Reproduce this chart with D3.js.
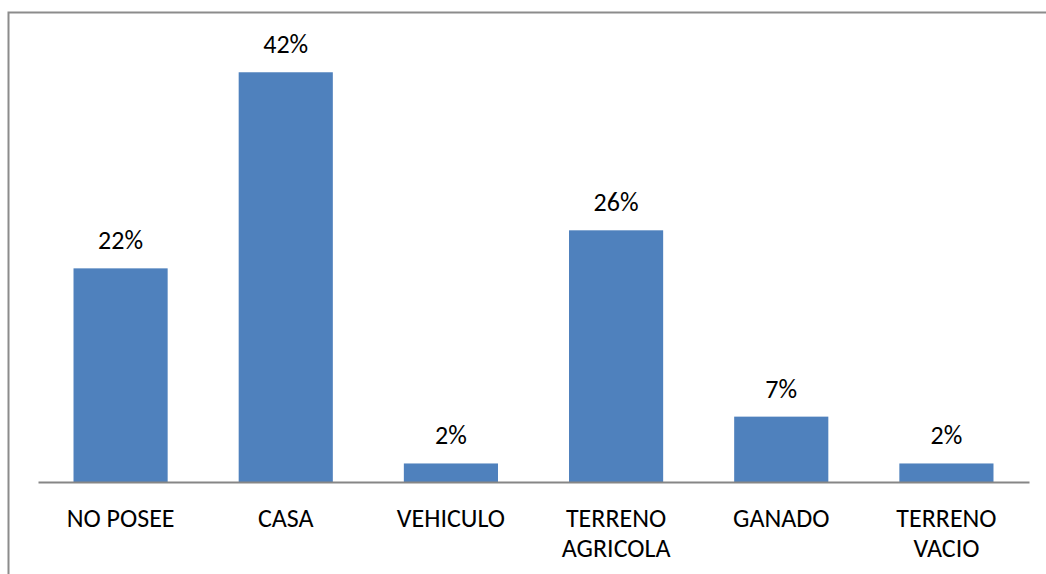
<!DOCTYPE html>
<html>
<head>
<meta charset="utf-8">
<script src="https://cdn.jsdelivr.net/npm/d3@7"></script>
<style>
  body { margin: 0; background: #fff; }
  svg { display: block; }
</style>
</head>
<body>
<script>
'use strict'

var categories = [['NO POSEE'], ['CASA'], ['VEHICULO'], ['TERRENO', 'AGRICOLA'], ['GANADO'], ['TERRENO', 'VACIO']]
var values = [0.219, 0.42, 0.019, 0.258, 0.067, 0.019]

var width = 1046
var height = 574
var margin = { left: 38, right: 17, top: 43, bottom: 92 }
var font = "Carlito, 'Open Sans', sans-serif"

var svg = d3.select('body').append('svg')
  .attr('width', width)
  .attr('height', height)

// chart frame, cut off at the right and bottom edges
svg.append('path')
  .attr('d', 'M8.5,' + height + 'V12.5H' + width)
  .attr('fill', 'none')
  .attr('stroke', '#8c8c8c')
  .attr('stroke-width', 2)

var idx = d3.range(values.length)

var x = d3.scaleBand()
  .domain(idx)
  .range([margin.left, width - margin.right])
  .paddingInner(0.43)
  .paddingOuter(0.215)

var y = d3.scaleLinear()
  .domain([0, 0.45])
  .range([height - margin.bottom, margin.top])

var fmt = d3.format('.0%')

svg.selectAll('rect.bar')
  .data(idx)
  .enter().append('rect')
  .attr('class', 'bar')
  .attr('x', function (i) { return x(i) })
  .attr('y', function (i) { return y(values[i]) })
  .attr('width', x.bandwidth())
  .attr('height', function (i) { return y(0) - y(values[i]) })
  .attr('fill', '#4f81bd')

svg.selectAll('text.val')
  .data(idx)
  .enter().append('text')
  .attr('class', 'val')
  .attr('x', function (i) { return x(i) + x.bandwidth() / 2 })
  .attr('y', function (i) { return y(values[i]) - 19 })
  .attr('text-anchor', 'middle')
  .attr('font-family', font)
  .attr('font-size', 26)
  .attr('fill', '#000')
  .text(function (i) { return fmt(values[i]) })

// category axis
var axis = svg.append('g')
  .attr('transform', 'translate(0,' + y(0) + ')')
  .call(d3.axisBottom(x).tickSize(0).tickFormat(''))
  .attr('font-family', font)
  .attr('font-size', 26)

axis.select('.domain')
  .attr('stroke', '#868686')
  .attr('stroke-width', 2)

axis.selectAll('.tick').each(function (i) {
  var t = d3.select(this).append('text')
    .attr('text-anchor', 'middle')
    .attr('fill', '#000')
    .attr('y', 45)
  categories[i].forEach(function (line, k) {
    t.append('tspan').attr('x', 0).attr('dy', k === 0 ? 0 : 30).text(line)
  })
})
</script>
</body>
</html>
